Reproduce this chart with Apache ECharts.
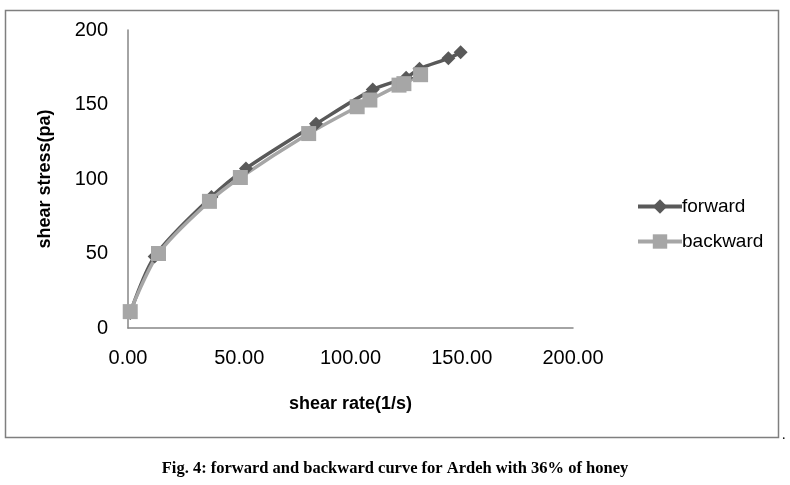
<!DOCTYPE html>
<html><head><meta charset="utf-8">
<script src="https://cdn.jsdelivr.net/npm/echarts@6/dist/echarts.min.js"></script>
<style>html,body{margin:0;padding:0;background:#fff}#c{width:790px;height:485px}</style>
</head><body><div id="c"></div>
<script>
const seriesNames = ['forward', 'backward'];
const forwardX = [1, 12, 37.5, 53, 84.5, 110, 125, 131, 144, 149.5];
const forwardY = [10, 48, 88, 107, 137, 160, 168, 174, 181, 185];
const backwardX = [1, 13.7, 36.6, 50.5, 81.2, 103, 108.7, 121.8, 124, 131.5];
const backwardY = [11, 50, 85, 101, 130.5, 148.5, 153, 163, 164, 170];
const xTicks = [0, 50, 100, 150, 200];
const yTicks = [0, 50, 100, 150, 200];
const caption = 'Fig. 4: forward and backward curve for Ardeh with 36% of honey';

const chart = echarts.init(document.getElementById('c'), null, {renderer: 'canvas'});
const font = 'Liberation Sans';
chart.setOption({
  animation: false,
  backgroundColor: '#fff',
  grid: {left: 128, right: 217, top: 30, bottom: 157},
  xAxis: {
    type: 'value', min: xTicks[0], max: xTicks[xTicks.length-1], interval: 50,
    name: 'shear rate(1/s)', nameLocation: 'middle', nameGap: 67,
    nameTextStyle: {fontFamily: font, fontWeight: 'bold', fontSize: 18, color: '#000'},
    axisLine: {lineStyle: {color: '#868686', width: 1.5}},
    axisTick: {show: false}, splitLine: {show: false},
    axisLabel: {formatter: v => v.toFixed(2), fontFamily: font, fontSize: 20, color: '#000', margin: 20}
  },
  yAxis: {
    type: 'value', min: yTicks[0], max: yTicks[yTicks.length-1], interval: 50,
    name: 'shear stress(pa)', nameLocation: 'middle', nameGap: 74, nameRotate: 90,
    nameTextStyle: {fontFamily: font, fontWeight: 'bold', fontSize: 18, color: '#000'},
    axisLine: {show: true, lineStyle: {color: '#868686', width: 1.5}},
    axisTick: {show: false}, splitLine: {show: false},
    axisLabel: {fontFamily: font, fontSize: 20, color: '#000', margin: 20}
  },
  legend: {
    orient: 'vertical', left: 631, top: 192, itemGap: 16, itemWidth: 44, itemHeight: 18,
    textStyle: {fontFamily: font, fontSize: 19, color: '#000', padding: [0,0,0,-5]},
    lineStyle: {width: 4},
    data: seriesNames
  },
  series: [
    {name: seriesNames[0], type: 'line', smooth: 0.3, symbol: 'diamond', symbolSize: 14,
     data: forwardX.map((x,i)=>[x, forwardY[i]]),
     lineStyle: {color: '#595959', width: 3.5}, itemStyle: {color: '#595959'}},
    {name: seriesNames[1], type: 'line', smooth: 0.3, symbol: 'rect', symbolSize: 15,
     data: backwardX.map((x,i)=>[x, backwardY[i]]),
     lineStyle: {color: '#a6a6a6', width: 3.5}, itemStyle: {color: '#a6a6a6'}}
  ],
  graphic: [
    {type: 'rect', shape: {x: 5.5, y: 10.5, width: 773, height: 427}, style: {fill: null, stroke: '#7f7f7f', lineWidth: 1.5}, silent: true},
    {type: 'text', left: 782, top: 428, style: {text: '.', font: '14px Liberation Serif', fill: '#000'}},
    {type: 'text', left: 'center', top: 460, style: {text: caption, font: 'bold 16.5px "Liberation Serif"', fill: '#000'}}
  ]
});
</script></body></html>
